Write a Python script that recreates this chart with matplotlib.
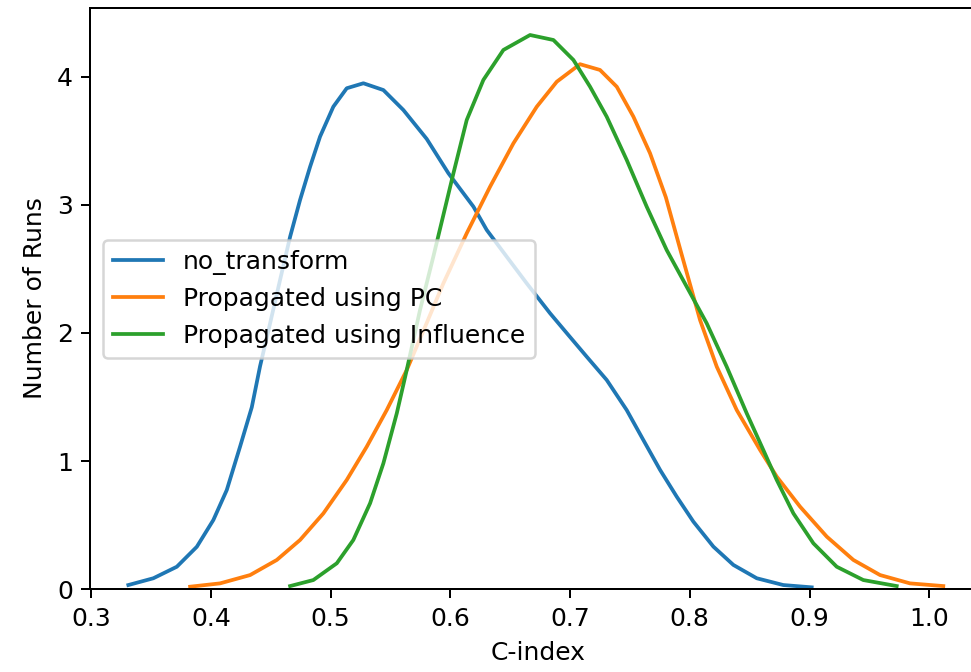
import matplotlib
matplotlib.use("Agg")
import matplotlib.pyplot as plt

# density curves of the C-index over the runs
x_none = [0.3311, 0.3520, 0.3716, 0.3883, 0.4021, 0.4133, 0.4244, 0.4342, 0.4411, 0.4495,
          0.4578, 0.4662, 0.4745, 0.4829, 0.4912, 0.5023, 0.5135, 0.5274, 0.5441, 0.5608,
          0.5803, 0.5984, 0.6193, 0.6304, 0.6471, 0.6638, 0.6833, 0.6986, 0.7139, 0.7306,
          0.7473, 0.7612, 0.7752, 0.7891, 0.8030, 0.8197, 0.8364, 0.8559, 0.8781, 0.9018]
y_none = [0.031, 0.084, 0.174, 0.330, 0.539, 0.773, 1.112, 1.420, 1.740, 2.076,
          2.414, 2.752, 3.039, 3.299, 3.534, 3.768, 3.912, 3.951, 3.898, 3.742,
          3.516, 3.248, 2.987, 2.805, 2.596, 2.388, 2.154, 1.984, 1.815, 1.633,
          1.398, 1.164, 0.930, 0.721, 0.526, 0.331, 0.188, 0.084, 0.031, 0.013]

x_pc = [0.3827, 0.4077, 0.4328, 0.4551, 0.4745, 0.4940, 0.5135, 0.5302, 0.5469, 0.5636,
        0.5790, 0.5942, 0.6137, 0.6332, 0.6527, 0.6722, 0.6889, 0.7083, 0.7250, 0.7390,
        0.7529, 0.7668, 0.7800, 0.7930, 0.8086, 0.8225, 0.8392, 0.8587, 0.8726, 0.8921,
        0.9144, 0.9366, 0.9589, 0.9839, 1.0117]
y_pc = [0.018, 0.044, 0.109, 0.227, 0.383, 0.591, 0.852, 1.112, 1.398, 1.711,
        2.050, 2.388, 2.779, 3.143, 3.482, 3.768, 3.963, 4.100, 4.055, 3.924,
        3.690, 3.404, 3.060, 2.620, 2.100, 1.737, 1.398, 1.086, 0.878, 0.643,
        0.409, 0.227, 0.109, 0.044, 0.023]

x_infl = [0.4662, 0.4856, 0.5052, 0.5190, 0.5330, 0.5441, 0.5553, 0.5636, 0.5747, 0.5858,
          0.6026, 0.6137, 0.6276, 0.6443, 0.6666, 0.6861, 0.7028, 0.7167, 0.7306, 0.7473,
          0.7640, 0.7807, 0.7974, 0.8141, 0.8308, 0.8475, 0.8614, 0.8726, 0.8865, 0.9032,
          0.9227, 0.9449, 0.9728]
y_infl = [0.023, 0.070, 0.201, 0.383, 0.670, 0.982, 1.373, 1.711, 2.180, 2.596,
          3.248, 3.664, 3.977, 4.211, 4.328, 4.289, 4.133, 3.924, 3.690, 3.352,
          2.987, 2.648, 2.362, 2.076, 1.737, 1.373, 1.086, 0.852, 0.591, 0.357,
          0.174, 0.070, 0.023]

labels = ['no_transform', 'Propagated using PC', 'Propagated using Influence']

fig = plt.figure(figsize=(971 / 180, 672 / 180), dpi=180)
ax = fig.add_axes([0.0932, 0.1235, 0.9218, 0.8646])

ax.plot(x_none, y_none, color='tab:blue', lw=1.5, label=labels[0])
ax.plot(x_pc, y_pc, color='tab:orange', lw=1.5, label=labels[1])
ax.plot(x_infl, y_infl, color='tab:green', lw=1.5, label=labels[2])

ax.set_xlim(0.2995, 1.047)
ax.set_ylim(0, 4.539)
ax.set_xticks([0.3, 0.4, 0.5, 0.6, 0.7, 0.8, 0.9, 1.0])
ax.set_yticks([0, 1, 2, 3, 4])
ax.spines['right'].set_visible(False)
ax.set_xlabel('C-index')
ax.set_ylabel('Number of Runs')
ax.legend(loc='center left')

fig.savefig('out.png', dpi=180)
